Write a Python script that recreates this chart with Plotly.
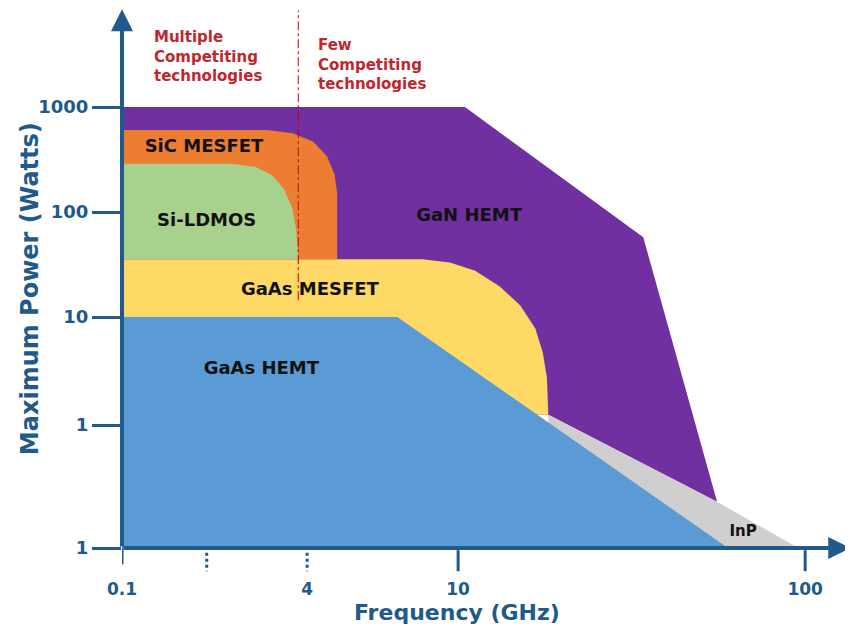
import plotly.graph_objects as go

# ---------------- data (schematic units: x = frequency position, y = power position) ----------------
x_tick_pos = [0.0, 2.71, 4.92, 10.0]
x_tick_text = ["0.1", "4", "10", "100"]
x_minor_dotted = [1.24, 2.71]
x_solid_ticks = [0.0, 4.92, 10.0]

y_tick_pos = [0.0, 1.17, 2.20, 3.20, 4.20]
y_tick_text = ["1", "1", "10", "100", "1000"]

gan_x = [0.0, 5.02, 7.63, 8.71, 6.24, 0.0]
gan_y = [4.20, 4.20, 2.96, 0.44, 1.27, 1.27]

inp_x = [6.24, 8.71, 9.90, 8.87, 6.24]
inp_y = [1.27, 0.44, 0.0, 0.0, 0.0]

gaas_mesfet_x = [0.0, 4.40, 4.80, 5.17, 5.53, 5.83, 6.05, 6.16, 6.22, 6.24, 0.0]
gaas_mesfet_y = [2.75, 2.75, 2.72, 2.64, 2.49, 2.31, 2.09, 1.86, 1.62, 1.27, 1.27]

sic_x = [0.0, 2.12, 2.50, 2.80, 3.00, 3.11, 3.15, 3.15, 0.0]
sic_y = [3.98, 3.98, 3.95, 3.87, 3.73, 3.56, 3.38, 2.75, 2.75]

ldmos_x = [0.0, 1.60, 1.95, 2.20, 2.37, 2.49, 2.55, 2.58, 0.0]
ldmos_y = [3.66, 3.66, 3.63, 3.55, 3.42, 3.24, 3.03, 2.75, 2.75]

gaas_hemt_x = [0.0, 4.03, 8.87, 0.0]
gaas_hemt_y = [2.20, 2.20, 0.0, 0.0]

label_text = ["SiC MESFET", "Si-LDMOS", "GaN HEMT", "GaAs MESFET", "GaAs HEMT", "InP"]
label_x = [1.20, 1.24, 5.08, 2.75, 2.04, 9.09]
label_y = [3.81, 3.11, 3.16, 2.45, 1.70, 0.15]
label_size = [18, 18, 18, 18, 18, 15]

divider_x = [2.58, 2.58]
divider_y = [2.36, 5.12]

note_text = ["Multiple<br>Competiting<br>technologies", "Few<br>Competiting<br>technologies"]
note_x = [0.44, 2.84]
note_y = [4.97, 4.90]

x_axis_end = 10.66
y_axis_end = 5.13

# ---------------- styles ----------------
AX = "#215a8a"
FONT = "DejaVu Sans"
RED = "#c0272d"

fig = go.Figure()

regions = [
    (gan_x, gan_y, "#7030a0", "GaN HEMT"),
    (inp_x, inp_y, "#d0cece", "InP"),
    (gaas_mesfet_x, gaas_mesfet_y, "#ffd966", "GaAs MESFET"),
    (sic_x, sic_y, "#ed7d31", "SiC MESFET"),
    (ldmos_x, ldmos_y, "#a9d18e", "Si-LDMOS"),
    (gaas_hemt_x, gaas_hemt_y, "#5b9bd5", "GaAs HEMT"),
]
for xs, ys, col, nm in regions:
    fig.add_trace(go.Scatter(x=xs, y=ys, fill="toself", fillcolor=col, mode="lines",
                             line=dict(width=0, color=col), name=nm, hoverinfo="name"))

fig.add_trace(go.Scatter(x=divider_x, y=divider_y, mode="lines",
                         line=dict(color="#c00000", width=1, dash="dashdot"), hoverinfo="skip"))

fig.add_trace(go.Scatter(x=label_x, y=label_y, mode="text",
                         text=["<b>%s</b>" % t for t in label_text],
                         textfont=dict(family=FONT, size=label_size, color="#111111"),
                         hoverinfo="skip", cliponaxis=False))

annotations = []
for t, xx, yy in zip(note_text, note_x, note_y):
    annotations.append(dict(x=xx, y=yy, xref="x", yref="y", text="<b>%s</b>" % t, showarrow=False,
                            xanchor="left", yanchor="top", align="left",
                            font=dict(family=FONT, size=15, color=RED)))

# axis arrows
annotations.append(dict(x=0, y=y_axis_end, ax=0, ay=0, xref="x", yref="y", axref="x", ayref="y",
                        text="", showarrow=True, arrowhead=2, arrowsize=1.1, arrowwidth=4, arrowcolor=AX))
annotations.append(dict(x=x_axis_end, y=0, ax=0, ay=0, xref="x", yref="y", axref="x", ayref="y",
                        text="", showarrow=True, arrowhead=2, arrowsize=1.1, arrowwidth=4, arrowcolor=AX))

# axis titles
annotations.append(dict(x=0.458, y=-0.119, xref="paper", yref="paper", text="<b>Frequency (GHz)</b>",
                        xanchor="center", yanchor="middle",
                        showarrow=False, font=dict(family=FONT, size=22, color=AX)))
annotations.append(dict(x=-0.126, y=0.481, xref="paper", yref="paper", text="<b>Maximum Power (Watts)</b>",
                        xanchor="center", yanchor="middle",
                        showarrow=False, textangle=-90, font=dict(family=FONT, size=24, color=AX)))

# x tick marks (solid and dotted)
shapes = []
for xv in x_solid_ticks:
    y1 = -0.030 if xv == x_solid_ticks[0] else -0.043
    y0 = 0.0 if xv == x_solid_ticks[0] else -0.004
    shapes.append(dict(type="line", xref="x", yref="paper", x0=xv, x1=xv, y0=y0, y1=y1,
                       line=dict(color=AX, width=3)))
for xv in x_minor_dotted:
    shapes.append(dict(type="line", xref="x", yref="paper", x0=xv, x1=xv, y0=-0.009, y1=-0.043,
                       line=dict(color=AX, width=3, dash="dot")))

fig.update_layout(
    width=845, height=620,
    margin=dict(l=114, r=0, t=0, b=80),
    plot_bgcolor="white", paper_bgcolor="white",
    showlegend=False,
    annotations=annotations,
    shapes=shapes,
    xaxis=dict(range=[0, 10.70], tickmode="array", tickvals=x_tick_pos, ticktext=x_tick_text,
               ticks="", showgrid=False, zeroline=False, showline=False, automargin=False,
               ticklabelstandoff=29,
               tickfont=dict(family=FONT, size=17, color=AX, weight="bold")),
    yaxis=dict(range=[0, 5.143], tickmode="array", tickvals=y_tick_pos, ticktext=y_tick_text,
               ticks="outside", ticklen=29, tickwidth=3, tickcolor=AX,
               showgrid=False, zeroline=False, showline=False, automargin=False,
               tickfont=dict(family=FONT, size=18, color=AX, weight="bold")),
)

fig.write_html("out.html")
